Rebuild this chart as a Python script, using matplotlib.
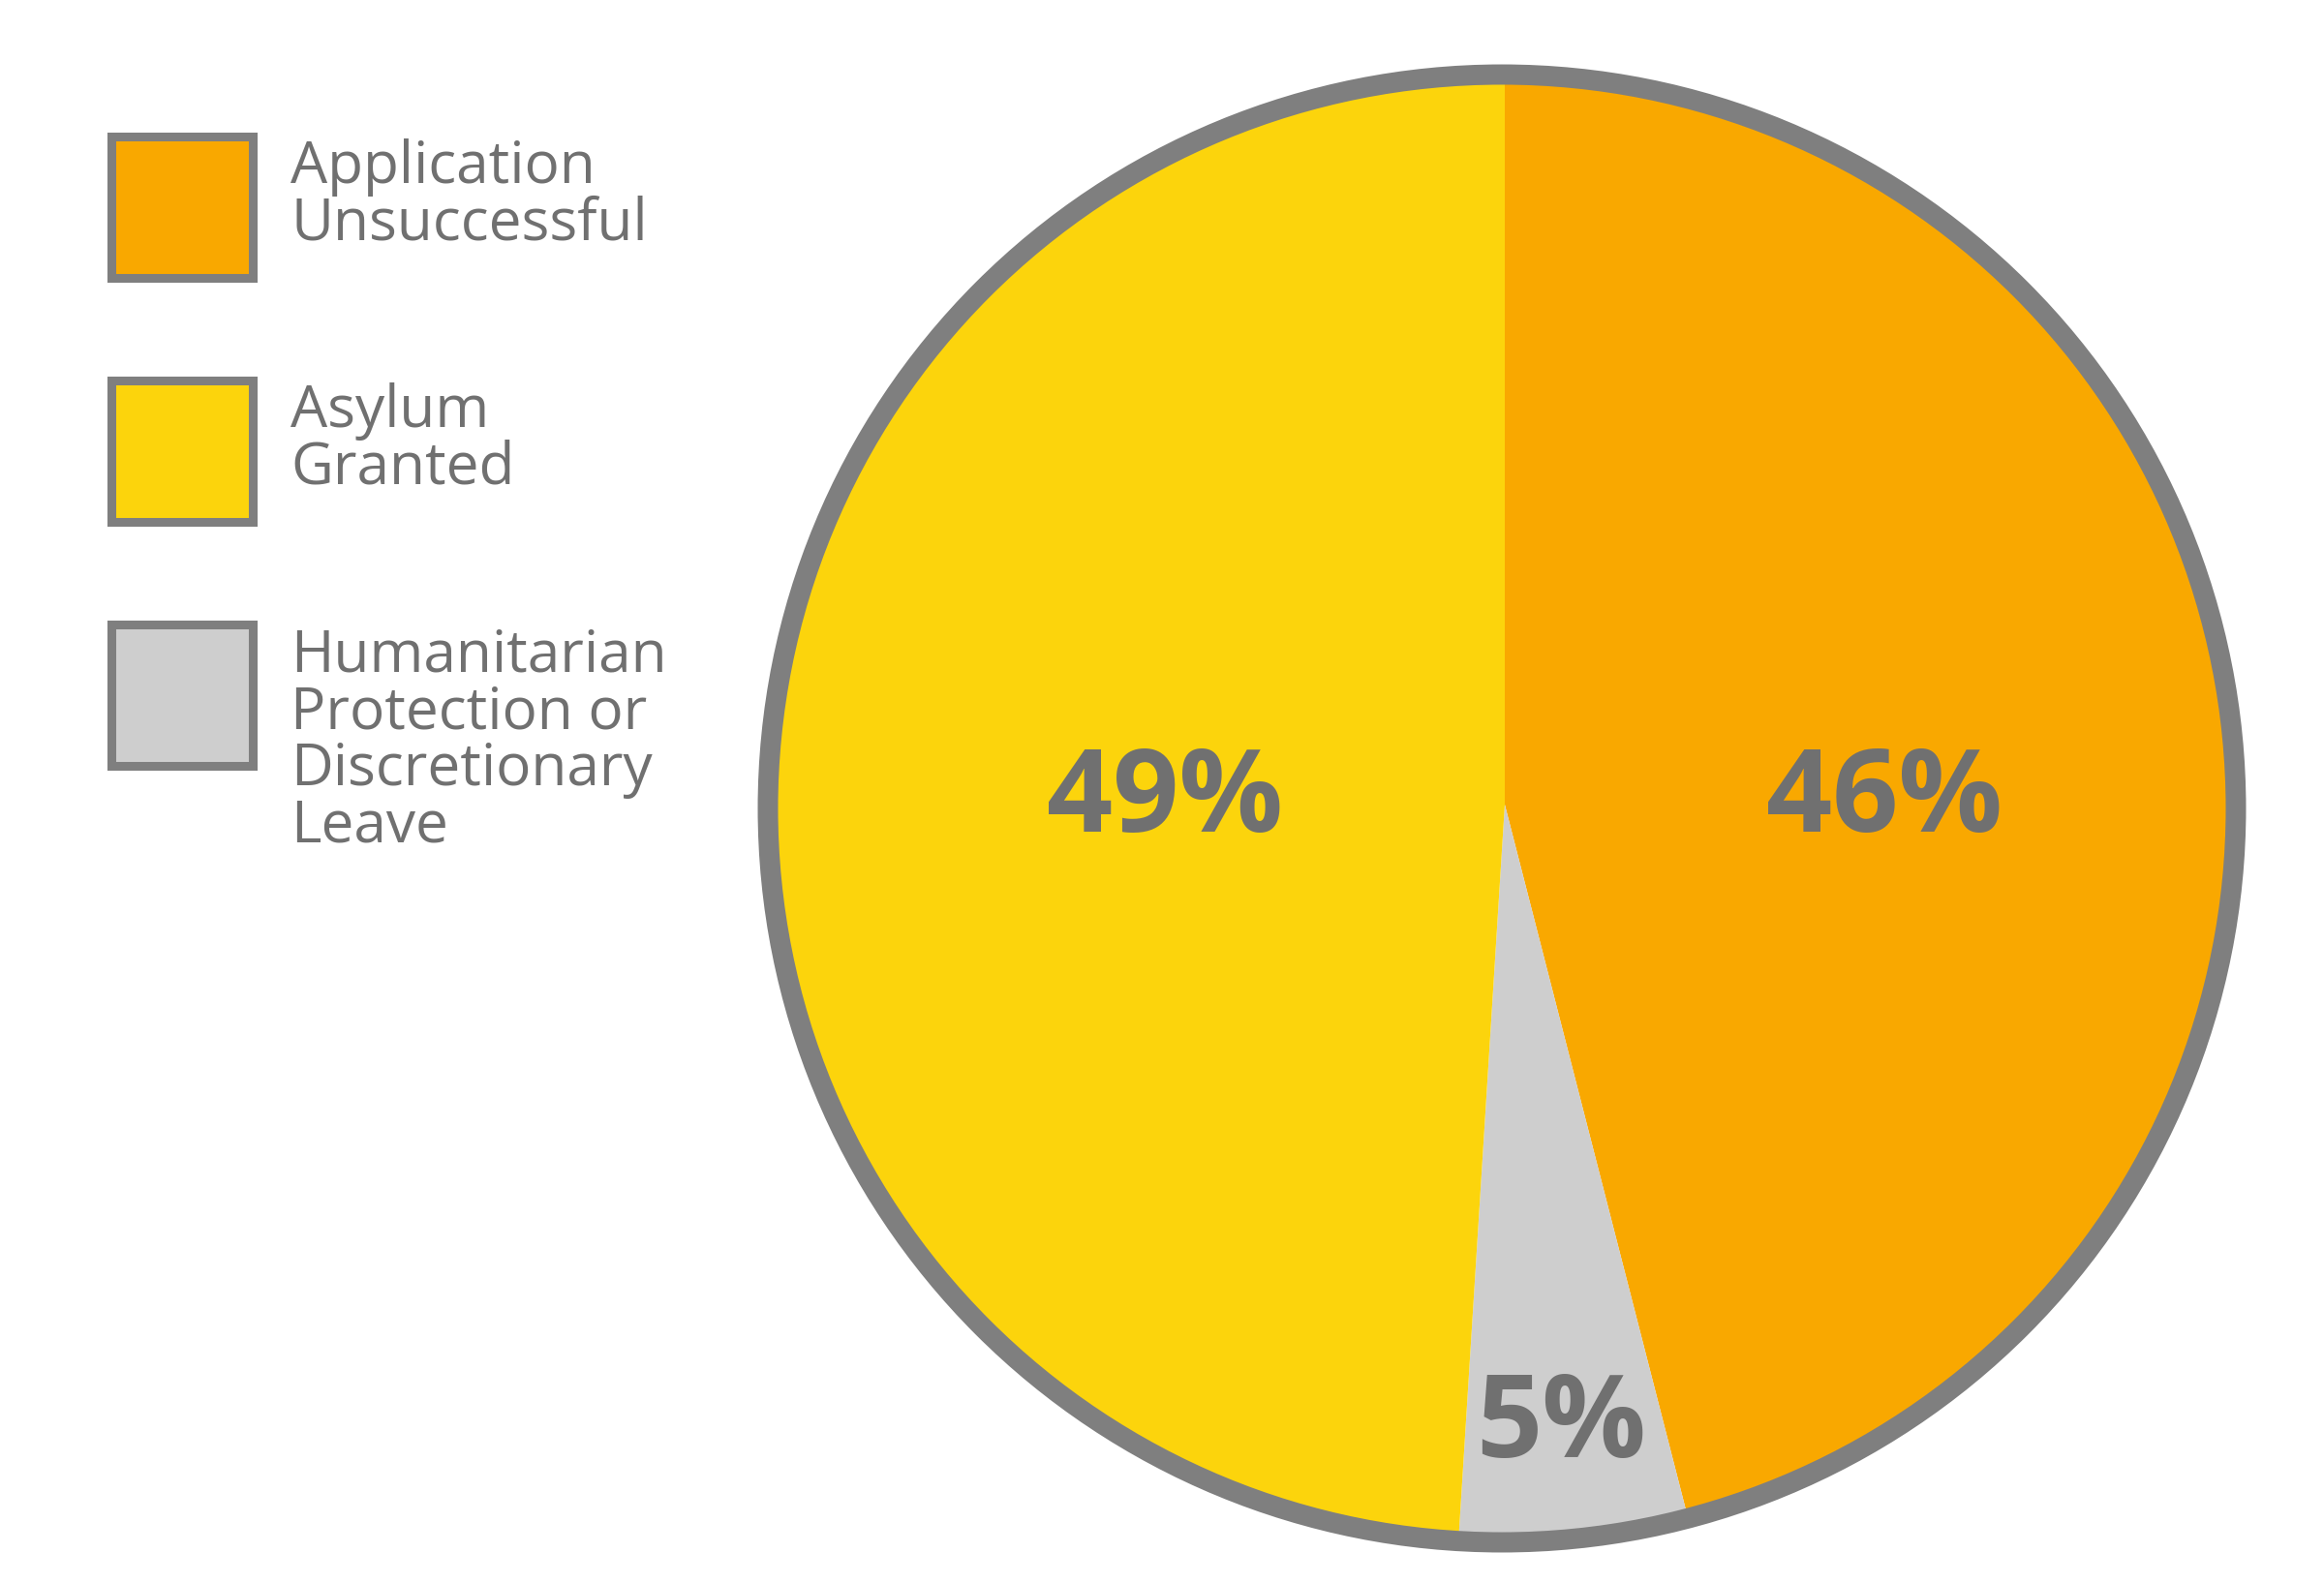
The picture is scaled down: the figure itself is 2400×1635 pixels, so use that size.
import matplotlib.pyplot as plt
from matplotlib.patches import Circle, Rectangle

plt.rcParams['font.family'] = ['Open Sans', 'DejaVu Sans']

# data
categories = ['Application\nUnsuccessful', 'Asylum\nGranted',
              'Humanitarian\nProtection or\nDiscretionary\nLeave']
shares = [46, 49, 5]
colors = ['#F9A800', '#FCD40C', '#CECECE']

# order of the slices going clockwise from 12 o'clock
pie_order = [0, 2, 1]

W, H = 2400, 1635
text_col = '#707070'
edge_col = '#7F7F7F'

fig = plt.figure(figsize=(24, 16.35), dpi=100)
ax = fig.add_axes([0, 0, 1, 1])

# pie, in pixel units of the figure
cx, cy, R = 1551, H - 835, 758
px, py = 1554, H - 831
vals = [shares[i] for i in pie_order]
cols = [colors[i] for i in pie_order]
ax.pie(vals, colors=cols, startangle=90, counterclock=False,
       center=(px, py), radius=R, wedgeprops=dict(linewidth=0),
       frame=True)
ax.set_xlim(0, W)
ax.set_ylim(0, H)
ax.set_aspect('equal')
ax.axis('off')
ax.add_patch(Circle((cx, cy), R, fill=False, edgecolor=edge_col,
                    linewidth=15.1, zorder=5))

# percentage labels (offsets in units of the radius)
label_pos = {0: (0.517, 0.022), 1: (-0.463, 0.022), 2: (0.077, -0.83)}
for i, v in enumerate(shares):
    dx, dy = label_pos[i]
    ax.text(px + dx * R, py + dy * R, f'{v}%', fontsize=86,
            fontweight='bold', color=text_col, ha='center',
            va='center_baseline', zorder=6)

# legend
box_x, box_top, box_size, step = 114.5, 140.5, 146, 252.5
for i, (lab, c) in enumerate(zip(categories, colors)):
    top = box_top + i * step
    ax.add_patch(Rectangle((box_x, H - top - box_size), box_size, box_size,
                           facecolor=c, edgecolor=edge_col, linewidth=6.5))
    ax.text(300, H - (top + 2), lab, fontsize=43.5, color=text_col,
            ha='left', va='top', linespacing=0.97)

fig.savefig('out.png', dpi=100)
